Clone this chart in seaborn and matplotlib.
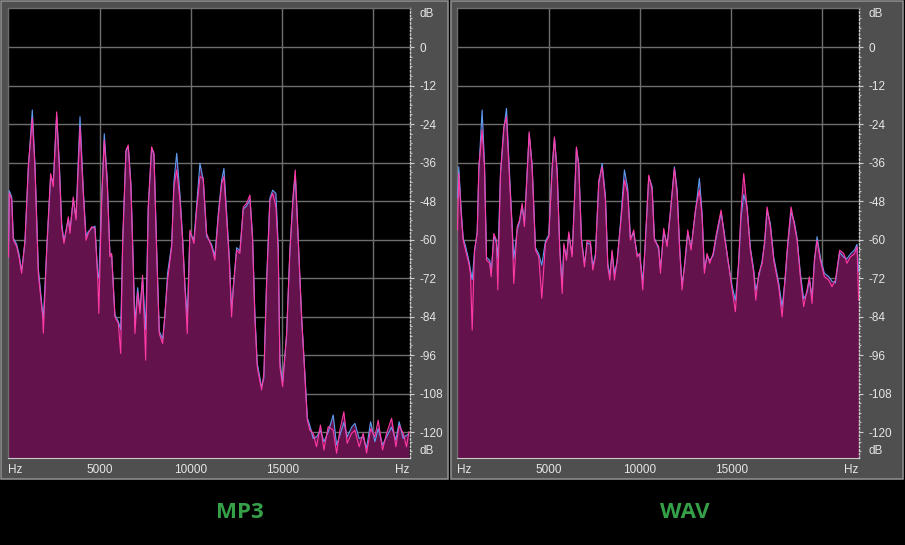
import numpy as np
import matplotlib.pyplot as plt
import seaborn as sns
from matplotlib.patches import Rectangle

# spectrum readings (Hz, dB)
# pink = left channel, blue = right channel
mp3_freq = [0, 45, 175, 265, 450, 575, 720, 905, 1085, 1305,
            1450, 1635, 1875, 1910, 2090, 2310, 2455, 2640, 2785, 2915,
            3040, 3280, 3370, 3550, 3700, 3920, 4100, 4250, 4375, 4560,
            4740, 4890, 4950, 5105, 5250, 5415, 5560, 5655, 5835, 6020,
            6150, 6260, 6440, 6565, 6710, 6840, 6930, 7080, 7205, 7350,
            7520, 7660, 7845, 7975, 8120, 8265, 8450, 8575, 8720, 8945,
            9070, 9220, 9400, 9545, 9670, 9800, 9945, 10165, 10310, 10495,
            10675, 10860, 11135, 11315, 11500, 11685, 11810, 11955, 12100, 12230,
            12320, 12505, 12685, 12870, 13050, 13235, 13380, 13505, 13635, 13875,
            14000, 14150, 14330, 14480, 14660, 14785, 14880, 15025, 15245, 15425,
            15610, 15720, 15830, 15940, 16070, 16250, 16380, 16520, 16700, 16885,
            17100, 17290, 17525, 17800, 17985, 18165, 18385, 18565, 18810, 18990,
            19225, 19445, 19630, 19850, 20085, 20265, 20505, 20725, 21000, 21235,
            21415, 21635, 21820, 21950]
mp3_left = [-65.4, -45.5, -47.5, -60.2, -62.2, -65.4, -70.5, -60.2, -37.3, -22.2,
            -37.3, -70.5, -84.1, -89.2, -63.3, -39.4, -43.5, -20.2, -37.3, -56.0,
            -61.2, -52.9, -58.1, -46.7, -53.9, -24.8, -45.6, -60.2, -58.1, -56.0,
            -56.5, -71.6, -83.0, -47.7, -29.0, -42.5, -65.4, -64.3, -84.1, -86.1,
            -95.5, -60.2, -32.1, -30.5, -43.5, -68.5, -89.3, -76.3, -83.0, -71.1,
            -97.6, -49.8, -31.1, -33.1, -63.3, -89.3, -92.4, -83.0, -72.6, -62.2,
            -43.5, -38.3, -47.7, -60.2, -74.7, -89.3, -57.0, -61.2, -50.8, -40.4,
            -40.9, -58.1, -62.2, -66.4, -52.9, -42.5, -40.4, -52.9, -66.4, -84.1,
            -74.7, -63.3, -64.3, -49.8, -48.7, -46.1, -60.2, -84.1, -99.7, -106.9,
            -101.7, -73.7, -47.7, -45.6, -49.8, -63.3, -99.7, -105.9, -89.3, -63.3,
            -45.6, -38.3, -52.9, -67.4, -84.1, -102.8, -116.3, -119.4, -120.4, -124.6,
            -117.8, -125.6, -118.3, -119.4, -126.6, -119.4, -113.7, -123.5, -120.4, -119.5,
            -124.6, -120.4, -126.6, -119.0, -121.5, -116.3, -125.6, -120.4, -115.7, -124.6,
            -118.0, -120.4, -124.6, -119.9]
mp3_right = [-65.4, -44.8, -46.7, -59.5, -61.5, -64.5, -69.8, -60.8, -38.0, -19.6,
             -36.5, -69.0, -83.0, -84.5, -64.0, -40.5, -42.0, -21.5, -36.0, -55.0,
             -60.5, -53.5, -57.0, -47.5, -53.0, -21.7, -44.5, -59.0, -57.5, -56.5,
             -55.8, -70.5, -72.0, -48.5, -27.0, -41.5, -64.5, -65.0, -83.5, -85.5,
             -88.0, -61.0, -32.5, -31.0, -42.5, -67.5, -86.0, -75.0, -82.0, -72.0,
             -88.0, -50.5, -31.5, -33.5, -62.5, -88.5, -91.0, -84.0, -70.5, -61.5,
             -42.0, -33.1, -46.0, -59.5, -74.0, -84.0, -58.0, -60.0, -49.5, -36.2,
             -41.5, -59.0, -61.5, -65.0, -52.0, -41.5, -37.8, -51.5, -65.0, -82.0,
             -75.5, -62.5, -63.5, -50.5, -49.5, -47.5, -59.0, -83.0, -98.5, -106.0,
             -103.0, -72.5, -47.0, -44.6, -45.6, -62.0, -98.0, -104.5, -90.0, -64.0,
             -46.5, -40.0, -53.5, -68.0, -84.5, -102.0, -115.5, -118.0, -122.0, -121.5,
             -119.5, -123.0, -120.0, -114.7, -124.0, -121.0, -117.0, -121.5, -118.5, -117.3,
             -122.0, -121.5, -125.0, -116.8, -123.0, -119.0, -124.0, -121.5, -118.5, -122.5,
             -116.8, -122.0, -121.0, -120.5]

wav_freq = [0, 70, 200, 310, 440, 620, 710, 805, 930, 1080,
            1170, 1350, 1480, 1590, 1770, 1845, 1990, 2135, 2210, 2355,
            2540, 2685, 2865, 3000, 3085, 3270, 3400, 3545, 3670, 3930,
            4090, 4275, 4455, 4620, 4820, 5005, 5190, 5315, 5465, 5605,
            5740, 5830, 5975, 6100, 6285, 6410, 6520, 6650, 6795, 6960,
            7105, 7290, 7415, 7560, 7745, 7930, 8110, 8240, 8350, 8475,
            8605, 8750, 8930, 9150, 9330, 9480, 9660, 9845, 9990, 10155,
            10300, 10485, 10670, 10795, 11030, 11125, 11305, 11490, 11675, 11890,
            12040, 12180, 12310, 12455, 12620, 12805, 13040, 13260, 13410, 13535,
            13680, 13825, 14010, 14195, 14450, 14630, 14810, 15055, 15235, 15415,
            15545, 15690, 15875, 16055, 16240, 16350, 16515, 16700, 16840, 16970,
            17150, 17335, 17610, 17795, 17975, 18100, 18285, 18465, 18615, 18795,
            18975, 19160, 19290, 19435, 19565, 19710, 19890, 20110, 20345, 20530,
            20715, 20950, 21170, 21350, 21535, 21755, 21900, 21990]
wav_left = [-57.0, -39.4, -51.8, -60.2, -63.3, -67.4, -70.5, -88.2, -63.3, -58.1,
            -37.3, -25.9, -37.3, -66.4, -67.4, -71.6, -58.1, -60.2, -75.7, -39.4,
            -24.8, -21.7, -42.5, -57.0, -73.7, -56.0, -53.9, -48.7, -56.0, -26.4,
            -37.3, -63.3, -65.4, -78.3, -61.2, -59.1, -37.3, -28.0, -39.4, -63.3,
            -76.8, -61.2, -66.4, -57.6, -65.4, -47.7, -31.1, -37.3, -60.2, -68.5,
            -60.2, -60.7, -69.5, -65.4, -41.5, -37.3, -47.7, -68.5, -72.6, -63.3,
            -72.6, -66.4, -56.0, -41.5, -45.6, -60.2, -57.0, -65.4, -64.3, -75.7,
            -60.2, -39.9, -44.6, -60.2, -62.2, -70.5, -56.5, -62.2, -50.8, -37.8,
            -45.6, -63.3, -75.7, -67.4, -57.0, -63.3, -50.8, -44.6, -52.9, -70.5,
            -64.3, -67.4, -64.3, -58.1, -50.8, -59.1, -65.4, -75.7, -82.5, -66.4,
            -50.8, -39.4, -50.5, -63.3, -70.5, -78.9, -70.5, -67.4, -60.2, -49.8,
            -56.0, -66.4, -74.7, -84.1, -70.5, -61.2, -49.8, -55.5, -60.2, -71.6,
            -80.9, -75.7, -71.6, -79.9, -66.4, -60.2, -66.4, -71.6, -72.6, -74.7,
            -72.6, -63.3, -64.3, -67.4, -65.4, -64.5, -62.2, -78.9]
wav_right = [-47.0, -37.3, -50.5, -59.5, -62.0, -66.5, -69.5, -72.5, -64.0, -57.5,
             -38.5, -19.6, -36.5, -65.5, -66.5, -70.5, -59.0, -61.0, -66.0, -40.0,
             -25.5, -19.1, -41.0, -56.0, -66.0, -57.0, -54.5, -49.5, -55.0, -27.0,
             -36.5, -62.5, -64.5, -68.0, -60.5, -58.5, -38.0, -28.5, -38.5, -62.5,
             -74.0, -62.0, -65.5, -58.5, -64.5, -48.5, -31.5, -36.5, -59.5, -67.5,
             -61.0, -61.5, -68.5, -64.5, -42.5, -36.2, -46.5, -67.5, -71.0, -64.0,
             -70.5, -67.0, -55.0, -38.3, -44.0, -59.5, -58.0, -64.5, -65.0, -73.0,
             -61.0, -40.5, -43.5, -59.5, -63.0, -69.0, -57.5, -61.5, -51.5, -37.3,
             -44.5, -62.5, -74.0, -68.0, -58.0, -62.5, -51.5, -40.9, -52.0, -69.5,
             -65.0, -66.5, -65.0, -59.0, -51.5, -58.0, -66.0, -74.5, -79.0, -67.5,
             -53.0, -46.0, -49.8, -62.5, -69.5, -76.0, -71.5, -66.5, -61.0, -51.0,
             -55.0, -65.5, -73.5, -81.0, -71.5, -62.0, -51.5, -54.5, -59.5, -70.5,
             -78.5, -76.5, -72.5, -77.5, -67.0, -59.1, -65.5, -70.5, -71.5, -73.0,
             -73.5, -64.0, -65.5, -66.0, -64.5, -63.3, -61.5, -70.0]

db_ticks = [0, -12, -24, -36, -48, -60, -72, -84, -96, -108, -120]
db_labels = ['0', '-12', '-24', '-36', '-48', '-60', '-72', '-84', '-96', '-108', '-120']
hz_ticks = [0, 5000, 10000, 15000, 22000]
hz_labels = ['Hz', '5000', '10000', '15000', 'Hz']
hz_grid = [5000, 10000, 15000, 20000]
panel_titles = ['MP3', 'WAV']

FILL = '#63124b'
PINK = '#ff3aa6'
BLUE = '#5c9df2'
GRID = '#6e6e6e'
FRAME = '#4f4f4f'
TEXT = '#e6e6e6'
TITLE = '#36a048'

sns.set_style('dark', {'axes.facecolor': 'black', 'figure.facecolor': 'black'})
plt.rcParams['font.family'] = ['Liberation Sans', 'DejaVu Sans']


def draw_spectrum(ax, freq, left, right):
    env = np.maximum(left, right)
    for f in hz_grid:
        ax.axvline(f, color=GRID, lw=1.0, zorder=1)
    for d in db_ticks:
        ax.axhline(d, color=GRID, lw=1.0, zorder=1)
    ax.fill_between(freq, env, -140, color=FILL, lw=0, zorder=2)
    sns.lineplot(x=freq, y=right, ax=ax, color=BLUE, lw=0.8, zorder=3,
                 estimator=None, sort=False)
    sns.lineplot(x=freq, y=left, ax=ax, color=PINK, lw=0.8, zorder=4,
                 estimator=None, sort=False)

    ax.set_xlim(-27, 22010)
    ax.set_ylim(-128.1, 12.2)
    ax.set_xlabel('')
    ax.set_ylabel('')
    ax.grid(False)

    # dB scale on the right
    ax.yaxis.tick_right()
    ax.set_yticks(db_ticks)
    ax.set_yticklabels(db_labels)
    ax.set_yticks(np.arange(-126, 12, 3), minor=True)
    ax.tick_params(axis='y', which='major', length=3, width=0.8, color='#d0d0d0',
                   labelcolor=TEXT, labelsize=8.5, pad=4)
    ax.tick_params(axis='y', which='minor', length=1.2, width=0.8, color='#bdbdbd')
    ax.annotate('dB', xy=(1, 10.3), xycoords=('axes fraction', 'data'),
                xytext=(7, 0), textcoords='offset points', va='center',
                color=TEXT, fontsize=8.5)
    ax.annotate('dB', xy=(1, -125.9), xycoords=('axes fraction', 'data'),
                xytext=(7, 0), textcoords='offset points', va='center',
                color=TEXT, fontsize=8.5)

    # Hz scale at the bottom
    ax.set_xticks(hz_ticks)
    ax.set_xticklabels(hz_labels)
    ax.set_xticks(np.arange(0, 23000, 1000), minor=True)
    ax.tick_params(axis='x', which='both', length=3, width=0.8, color='#d0d0d0',
                   labelcolor=TEXT, labelsize=8.5, pad=1.5, direction='out')
    labels = ax.get_xticklabels()
    labels[0].set_horizontalalignment('left')
    labels[-1].set_horizontalalignment('right')

    for side in ['top', 'left']:
        ax.spines[side].set_color(GRID)
        ax.spines[side].set_linewidth(1.0)
    ax.spines['bottom'].set_color('#c8c8c8')
    ax.spines['bottom'].set_linewidth(0.8)
    ax.spines['right'].set_color('#d0d0d0')
    ax.spines['right'].set_linewidth(1.0)
    ax.spines['right'].set_linestyle(':')
    for s in ax.spines.values():
        s.set_visible(True)


fig = plt.figure(figsize=(9.05, 5.45), dpi=100, facecolor='black')

# grey analyzer frames
fig.add_artist(Rectangle((0.001, 0.1211), 0.494, 0.877, transform=fig.transFigure,
                         facecolor=FRAME, edgecolor='#8c8c8c', lw=1.2, zorder=-1))
fig.add_artist(Rectangle((0.4983, 0.1211), 0.4994, 0.877, transform=fig.transFigure,
                         facecolor=FRAME, edgecolor='#8c8c8c', lw=1.2, zorder=-1))

ax1 = fig.add_axes([8 / 905, 0.1596, 402 / 905, 0.8257])
ax2 = fig.add_axes([457 / 905, 0.1596, 402 / 905, 0.8257])

draw_spectrum(ax1, mp3_freq, mp3_left, mp3_right)
draw_spectrum(ax2, wav_freq, wav_left, wav_right)

fig.text(240 / 905, 1 - 512 / 545, panel_titles[0], color=TITLE, fontsize=16,
         fontweight='bold', ha='center', va='center', family=['Open Sans', 'DejaVu Sans'])
fig.text(685 / 905, 1 - 512 / 545, panel_titles[1], color=TITLE, fontsize=16,
         fontweight='bold', ha='center', va='center', family=['Open Sans', 'DejaVu Sans'])

fig.savefig('out.png', dpi=100, facecolor='black')
